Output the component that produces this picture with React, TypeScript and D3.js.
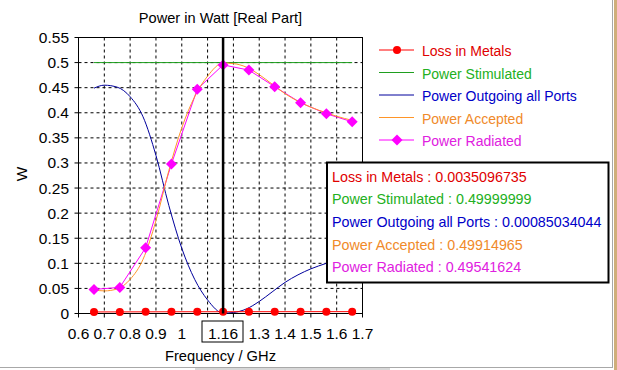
import React from "react";
import * as d3 from "d3";

const TITLE = "Power in Watt [Real Part]";
const X_LABEL = "Frequency / GHz";
const Y_LABEL = "W";

const xTicks = [0.6, 0.7, 0.8, 0.9, 1.0, 1.1, 1.2, 1.3, 1.4, 1.5, 1.6, 1.7];
const xTickLabels = ["0.6", "0.7", "0.8", "0.9", "1", "1.1", "1.2", "1.3", "1.4", "1.5", "1.6", "1.7"];
const yTicks = [0, 0.05, 0.1, 0.15, 0.2, 0.25, 0.3, 0.35, 0.4, 0.45, 0.5, 0.55];
const yTickLabels = ["0", "0.05", "0.1", "0.15", "0.2", "0.25", "0.3", "0.35", "0.4", "0.45", "0.5", "0.55"];

// sample frequencies (markers)
const markerFreq = [0.66, 0.76, 0.86, 0.96, 1.06, 1.16, 1.26, 1.36, 1.46, 1.56, 1.66];
const lossInMetals = [0.0031, 0.0032, 0.0033, 0.0034, 0.0035, 0.0035, 0.0036, 0.0036, 0.0036, 0.0037, 0.0037];
const powerRadiated = [0.048, 0.052, 0.131, 0.298, 0.447, 0.4954, 0.485, 0.452, 0.42, 0.398, 0.382];

// dense frequencies for smooth curves
const curveFreq = [0.66, 0.7, 0.75, 0.8, 0.85, 0.9, 0.95, 1.0, 1.05, 1.1, 1.16, 1.2, 1.25, 1.3, 1.35, 1.4, 1.45, 1.5, 1.56, 1.6, 1.66];
const powerOutgoing = [0.449, 0.455, 0.451, 0.432, 0.392, 0.315, 0.215, 0.13, 0.068, 0.027, 0.0009, 0.002, 0.009, 0.024, 0.043, 0.062, 0.077, 0.089, 0.1, 0.107, 0.115];
const powerAccepted = [0.047, 0.045, 0.049, 0.068, 0.108, 0.185, 0.285, 0.37, 0.432, 0.473, 0.4991, 0.498, 0.491, 0.476, 0.457, 0.438, 0.423, 0.411, 0.4, 0.393, 0.385];
const stimFreq = [0.66, 1.66];
const powerStimulated = [0.5, 0.5];

const markerAt = 1.16;
const markerLabel = "1.16";

const legendNames = ["Loss in Metals", "Power Stimulated", "Power Outgoing all Ports", "Power Accepted", "Power Radiated"];
const tooltipValues = ["0.0035096735", "0.49999999", "0.00085034044", "0.49914965", "0.49541624"];
const lineColors = ["#ff0000", "#1f9f1f", "#00009c", "#ff9528", "#ff00ff"];
const textColors = ["#e00000", "#22b022", "#0000c8", "#f08a2a", "#e020e0"];

const FONT = "'Liberation Sans', Arial, sans-serif";
const TICK_FS = 15.5;

export default function App() {
  const W = 617, H = 370;
  const x = d3.scaleLinear().domain([0.6, 1.7]).range([78.5, 362.5]);
  const y = d3.scaleLinear().domain([0, 0.55]).range([313.5, 37.5]);

  const lineLinear = d3.line<[number, number]>().x(d => x(d[0])).y(d => y(d[1]));
  const lineSmooth = d3.line<[number, number]>().x(d => x(d[0])).y(d => y(d[1])).curve(d3.curveMonotoneX);

  const zip = (a: number[], b: number[]) => a.map((v, i) => [v, b[i]] as [number, number]);

  const diamond = (cx: number, cy: number, r: number) =>
    `M${cx},${cy - r}L${cx + r},${cy}L${cx},${cy + r}L${cx - r},${cy}Z`;

  const x0 = x.range()[0], x1 = x.range()[1];
  const yTop = y.range()[1], yBot = y.range()[0];

  const legX1 = 379, legX2 = 414, legTextX = 422;
  const legBase = [56, 78.5, 101, 123.5, 146];
  const tipBase = [181.7, 204.3, 226.9, 249.5, 272.1];

  // marker box on x-axis
  const boxL = 202, boxR = 243;
  // approximate label widths (Arial metrics) to hide labels under the marker box
  const charW = (c: string) => (c === "." ? 0.278 : 0.556) * TICK_FS;
  const labelW = (s: string) => s.split("").reduce((a, c) => a + charW(c), 0);

  const tickLabelEls = xTicks.map((t, i) => {
    const s = xTickLabels[i];
    const w = labelW(s);
    const left = x(t) - w / 2;
    const right = left + w;
    if (right <= boxL || left >= boxR) {
      return <text key={"lx" + i} x={x(t)} y={338.5} textAnchor="middle" fontSize={TICK_FS} fill="#000">{s}</text>;
    }
    // visible part only (left of the box)
    let vis = "";
    let acc = left;
    for (const c of s) {
      if (acc + charW(c) <= boxL + 2) { vis += c; acc += charW(c); } else break;
    }
    vis = vis.replace(/\.$/, "");
    if (!vis) return null;
    return <text key={"lx" + i} x={left} y={338.5} textAnchor="start" fontSize={TICK_FS} fill="#000">{vis}</text>;
  });

  return (
    <svg width={W} height={H} style={{ position: "absolute", left: 0, top: 0, background: "#fff" }} fontFamily={FONT}>
      <rect x={0} y={0} width={W} height={H} fill="#fff" />
      {/* grid */}
      {xTicks.slice(1, -1).map((t, i) => (
        <line key={"gx" + i} x1={x(t)} x2={x(t)} y1={yTop} y2={yBot} stroke="#000" strokeWidth={1} strokeDasharray="3,3" />
      ))}
      {yTicks.slice(1, -1).map((t, i) => (
        <line key={"gy" + i} x1={x0} x2={x1} y1={y(t)} y2={y(t)} stroke="#000" strokeWidth={1} strokeDasharray="3,3" />
      ))}
      {/* frame */}
      <rect x={x0} y={yTop} width={x1 - x0} height={yBot - yTop} fill="none" stroke="#000" strokeWidth={1} />
      {/* ticks */}
      {xTicks.map((t, i) => (
        <line key={"tx" + i} x1={x(t)} x2={x(t)} y1={yBot} y2={yBot + 4} stroke="#000" />
      ))}
      {yTicks.map((t, i) => (
        <line key={"ty" + i} x1={x0 - 4} x2={x0} y1={y(t)} y2={y(t)} stroke="#000" />
      ))}
      {/* tick labels */}
      {tickLabelEls}
      {yTicks.map((t, i) => (
        <text key={"ly" + i} x={69} y={y(t) + 5.5} textAnchor="end" fontSize={TICK_FS} fill="#000">{yTickLabels[i]}</text>
      ))}
      {/* series */}
      <path d={lineLinear(zip(stimFreq, powerStimulated)) || ""} fill="none" stroke={lineColors[1]} strokeWidth={1} />
      <path d={lineSmooth(zip(curveFreq, powerOutgoing)) || ""} fill="none" stroke={lineColors[2]} strokeWidth={1} />
      <path d={lineLinear(zip(markerFreq, powerRadiated)) || ""} fill="none" stroke={lineColors[4]} strokeWidth={1} />
      <path d={lineSmooth(zip(curveFreq, powerAccepted)) || ""} fill="none" stroke={lineColors[3]} strokeWidth={1} />
      {markerFreq.map((f, i) => (
        <path key={"dm" + i} d={diamond(x(f), y(powerRadiated[i]), 5.5)} fill={lineColors[4]} />
      ))}
      <path d={lineLinear(zip(markerFreq, lossInMetals)) || ""} fill="none" stroke={lineColors[0]} strokeWidth={1} />
      {markerFreq.map((f, i) => (
        <circle key={"rd" + i} cx={x(f)} cy={y(lossInMetals[i])} r={4} fill={lineColors[0]} />
      ))}
      {/* marker line */}
      <line x1={x(markerAt)} x2={x(markerAt)} y1={yTop} y2={yBot} stroke="#000" strokeWidth={2.5} />
      <rect x={boxL} y={321} width={boxR - boxL} height={21} fill="#fff" stroke="#000" strokeWidth={1} />
      <text x={(boxL + boxR) / 2 + 0.5} y={338.5} textAnchor="middle" fontSize={TICK_FS} fill="#000">{markerLabel}</text>
      {/* title and labels */}
      <text x={(x0 + x1) / 2} y={22.5} textAnchor="middle" fontSize={14.6} fill="#000">{TITLE}</text>
      <text x={(x0 + x1) / 2} y={360.5} textAnchor="middle" fontSize={14.7} fill="#000">{X_LABEL}</text>
      <text transform={`translate(26.7,174) rotate(-90)`} textAnchor="middle" fontSize={15.5} fill="#000">{Y_LABEL}</text>
      {/* legend */}
      {legendNames.map((n, i) => {
        const ly = legBase[i] - 6;
        return (
          <g key={"lg" + i}>
            <line x1={legX1} x2={legX2} y1={ly} y2={ly} stroke={lineColors[i]} strokeWidth={1} />
            {i === 0 && <circle cx={397} cy={ly} r={4} fill={lineColors[0]} />}
            {i === 4 && <path d={diamond(397, ly, 5.5)} fill={lineColors[4]} />}
            <text x={legTextX} y={legBase[i]} fontSize={14} fill={textColors[i]}>{n}</text>
          </g>
        );
      })}
      {/* tooltip box */}
      <rect x={327} y={162.5} width={281.5} height={120} fill="#fff" stroke="#000" strokeWidth={2} />
      {legendNames.map((n, i) => (
        <text key={"tt" + i} x={332} y={tipBase[i]} fontSize={14.3} fill={textColors[i]}>{`${n} : ${tooltipValues[i]}`}</text>
      ))}
      {/* window chrome */}
      <line x1={612.5} x2={612.5} y1={0} y2={367.5} stroke="#a8a8a8" />
      <line x1={0} x2={613} y1={367.5} y2={367.5} stroke="#a8a8a8" />
      <rect x={614} y={0} width={3} height={H} fill="#cfae7a" />
      <rect x={195} y={368} width={195} height={2} fill="#d8d8d8" />
    </svg>
  );
}
